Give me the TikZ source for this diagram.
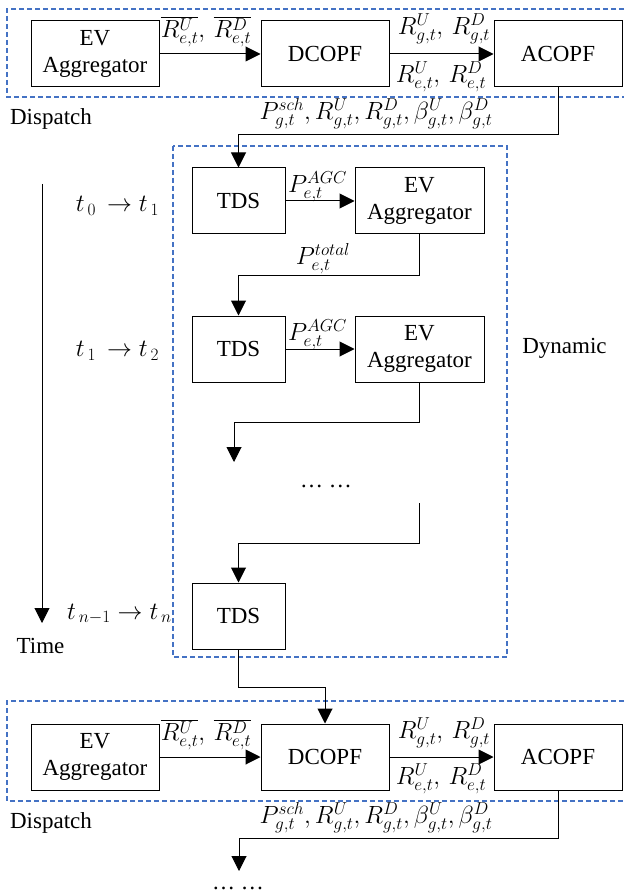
\documentclass[tikz,border=0pt]{standalone}
\usepackage{fontspec}
\setmainfont{Liberation Serif}
\newfontfamily\tnr{Liberation Serif}
\usetikzlibrary{arrows.meta,calc}
\definecolor{dashblue}{HTML}{4472C4}
\begin{document}
\begin{tikzpicture}[x=1pt,y=-1pt,
  box/.style={draw, line width=1pt, minimum width=128pt, minimum height=66pt, inner sep=0pt, align=center, font=\tnr\fontsize{23}{27}\selectfont},
  tdsbox/.style={box, minimum width=93pt},
  grp/.style={draw=dashblue, dash pattern=on 5pt off 3pt, line width=1.1pt},
  conn/.style={line width=1pt},
  arr/.style={conn, -{Triangle[length=15pt,width=15pt]}},
  lbl/.style={inner sep=0pt, font=\fontsize{24}{26}\selectfont},
  tlbl/.style={inner sep=0pt, font=\fontsize{26}{28}\selectfont},
  txt/.style={inner sep=0pt, font=\tnr\fontsize{23}{25}\selectfont}]
\useasboundingbox (0,0) rectangle (624,893);

% group frames
\draw[grp] (624,9) -- (7,9) -- (7,97) -- (624,97);
\draw[grp] (173,146) rectangle (507,657);
\draw[grp] (624,701) -- (7,701) -- (7,801) -- (624,801);

% boxes
\node[box] (ev0) at (95,54) {EV\\Aggregator};
\node[box] (dc0) at (325,54) {DCOPF};
\node[box] (ac0) at (558,54) {ACOPF};
\node[tdsbox] (tds1) at (238.5,201) {TDS};
\node[box, minimum width=129pt] (ev1) at (419.5,201) {EV\\Aggregator};
\node[tdsbox] (tds2) at (238.5,349) {TDS};
\node[box, minimum width=129pt] (ev2) at (419.5,349) {EV\\Aggregator};
\node[tdsbox] (tds3) at (238.5,616) {TDS};
\node[box] (ev3) at (95,757) {EV\\Aggregator};
\node[box] (dc3) at (325,757) {DCOPF};
\node[box] (ac3) at (558,757) {ACOPF};

% helper coordinates
\coordinate (k1) at (0,135);
\coordinate (k2) at (0,275);
\coordinate (k3) at (0,422);
\coordinate (k4) at (0,543);
\coordinate (k5) at (0,687);
\coordinate (k6) at (0,838);
\coordinate (d1) at (234,462);
\coordinate (d2) at (419,503);
\coordinate (d3) at (239,871);
\coordinate (ta) at (42,184);
\coordinate (tb) at (42,623);

% connectors
\draw[arr] (ev0) -- (dc0);
\draw[arr] (dc0) -- (ac0);
\draw[arr] (ac0.south) -- (ac0.south |- k1) -| (tds1.north);
\draw[arr] (tds1) -- (ev1);
\draw[arr] (ev1.south) -- (ev1.south |- k2) -| (tds2.north);
\draw[arr] (tds2) -- (ev2);
\draw[arr] (ev2.south) -- (ev2.south |- k3) -| (d1);
\draw[arr] (d2) -- (d2 |- k4) -| (tds3.north);
\draw[arr] (tds3.south) -- (tds3.south |- k5) -| (dc3.north);
\draw[arr] (ev3) -- (dc3);
\draw[arr] (dc3) -- (ac3);
\draw[arr] (ac3.south) -- (ac3.south |- k6) -| (d3);
\draw[arr] (ta) -- (tb);

% labels top
\node[lbl] (l1) at (206,32) {$\overline{R_{e,t}^{U}},\,\overline{R_{e,t}^{D}}$};
\node[lbl] (l2) at (444,29) {$R_{g,t}^{U},\,R_{g,t}^{D}$};
\node[lbl] (l3) at (441,77) {$R_{e,t}^{U},\,R_{e,t}^{D}$};
\node[txt] (disp0) at (51,119) {Dispatch};
\node[lbl] (l4) at (376,114) {$P_{g,t}^{sch},R_{g,t}^{U},R_{g,t}^{D},\beta_{g,t}^{U},\beta_{g,t}^{D}$};

% dynamic labels
\node[lbl] (a1) at (317.5,187) {$P_{e,t}^{AGC}$};
\node[lbl] (a2) at (317.5,335) {$P_{e,t}^{AGC}$};
\node[lbl] (a3) at (323,259) {$P_{e,t}^{total}$};
\node[tlbl] (s1) at (117.5,206) {$t_{\,0}\,\rightarrow t_{\,1}$};
\node[tlbl] (s2) at (117.5,351) {$t_{\,1}\,\rightarrow t_{\,2}$};
\node[tlbl] (s3) at (119.5,614) {$t_{\,n-1}\rightarrow t_{\,n}$};
\node[txt] (time) at (40.5,646) {Time};
\node[txt] (dyn) at (564.5,348) {Dynamic};
\node[txt] (dots1) at (326,486) {… …};

% labels bottom
\node[lbl] (m1) at (206,735) {$\overline{R_{e,t}^{U}},\,\overline{R_{e,t}^{D}}$};
\node[lbl] (m2) at (444,733) {$R_{g,t}^{U},\,R_{g,t}^{D}$};
\node[lbl] (m3) at (441,779) {$R_{e,t}^{U},\,R_{e,t}^{D}$};
\node[txt] (disp1) at (51,823) {Dispatch};
\node[lbl] (m4) at (376,818) {$P_{g,t}^{sch},R_{g,t}^{U},R_{g,t}^{D},\beta_{g,t}^{U},\beta_{g,t}^{D}$};
\node[txt] (dots2) at (238,888) {… …};
\end{tikzpicture}
\end{document}
